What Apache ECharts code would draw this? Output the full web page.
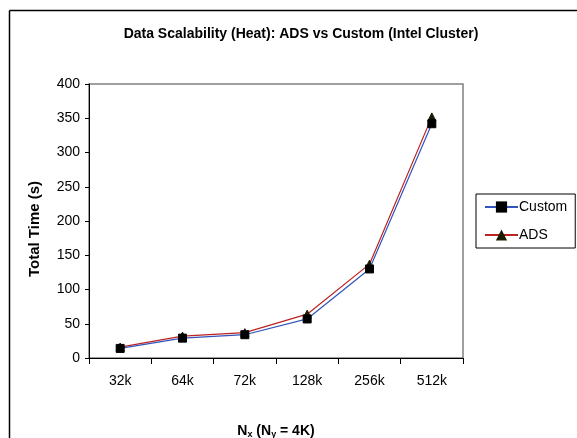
<!DOCTYPE html>
<html>
<head>
<meta charset="utf-8">
<script src="https://cdn.jsdelivr.net/npm/echarts@6/dist/echarts.min.js"></script>
<style>html,body{margin:0;padding:0;background:#fff;}#c{width:577px;height:438px;}</style>
</head>
<body>
<div id="c"></div>
<script>
var categories = ['32k', '64k', '72k', '128k', '256k', '512k'];
var customTimes = [14, 29, 34, 57, 130, 342];
var adsTimes = [16, 32, 37, 64, 137, 352];
var yTicks = [0, 50, 100, 150, 200, 250, 300, 350, 400];

var FONT = '"Liberation Sans", Arial, sans-serif';
var chart = echarts.init(document.getElementById('c'), null, {renderer: 'canvas'});
chart.setOption({
  animation: false,
  backgroundColor: '#fff',
  textStyle: {fontFamily: FONT, color: '#000'},
  grid: {left: 89, right: 114, top: 84, bottom: 80, outerBoundsMode: 'none', containLabel: false,
    show: true, borderColor: '#808080', borderWidth: 1.5, backgroundColor: 'transparent'},
  graphic: [
    {type: 'line', shape: {x1: 9.5, y1: 10.5, x2: 577, y2: 10.5}, style: {stroke: '#000', lineWidth: 1.5}},
    {type: 'line', shape: {x1: 9.5, y1: 10.5, x2: 9.5, y2: 438}, style: {stroke: '#000', lineWidth: 1.5}},
    {type: 'text', x: 301, y: 34, style: {text: 'Data Scalability (Heat): ADS vs Custom (Intel Cluster)', font: 'bold 14px ' + FONT, fill: '#000', align: 'center', verticalAlign: 'middle'}},
    {type: 'text', x: 35, y: 229, rotation: Math.PI / 2, style: {text: 'Total Time (s)', font: 'bold 15px ' + FONT, fill: '#000', align: 'center', verticalAlign: 'middle'}}
  ],
  legend: {
    orient: 'vertical', left: 476, top: 194, width: 100,
    borderColor: '#000', borderWidth: 1, padding: [6, 8, 6, 8],
    itemWidth: 33, itemHeight: 14, itemGap: 14,
    textStyle: {fontFamily: FONT, fontSize: 14, color: '#000', padding: [0, 0, 0, -4]},
    data: ['Custom', 'ADS']
  },
  xAxis: {
    type: 'category', data: categories, boundaryGap: true,
    axisLine: {lineStyle: {color: '#000', width: 1}},
    axisTick: {show: true, length: 6, lineStyle: {color: '#000'}},
    axisLabel: {fontFamily: FONT, fontSize: 14, color: '#000', margin: 16},
    name: 'N{sub|x} (N{sub|y} = 4K)', nameLocation: 'middle', nameGap: 66,
    nameTextStyle: {fontFamily: FONT, fontSize: 14, fontWeight: 'bold', color: '#000',
      rich: {sub: {fontFamily: FONT, fontSize: 9, fontWeight: 'bold', color: '#000', verticalAlign: 'bottom', padding: [6, 0, 0, 0]}}}
  },
  yAxis: {
    type: 'value', min: 0, max: 400, interval: 50,
    axisLine: {show: true, lineStyle: {color: '#000', width: 1}},
    axisTick: {show: true, length: 4, lineStyle: {color: '#000'}},
    splitLine: {show: false},
    axisLabel: {fontFamily: FONT, fontSize: 14, color: '#000', margin: 9,
      formatter: function (v) { return yTicks.indexOf(v) >= 0 ? String(v) : ''; }}
  },
  series: [
    {name: 'Custom', type: 'line', data: customTimes, symbol: 'rect', symbolSize: 8,
      lineStyle: {color: '#3355bb', width: 1.2}, itemStyle: {color: '#000', borderColor: '#000'}, z: 3},
    {name: 'ADS', type: 'line', data: adsTimes, symbol: 'triangle', symbolSize: 8,
      lineStyle: {color: '#bb2222', width: 1.2}, itemStyle: {color: '#1a1a00', borderColor: '#1a1a00'}, z: 2}
  ]
});
</script>
</body>
</html>
